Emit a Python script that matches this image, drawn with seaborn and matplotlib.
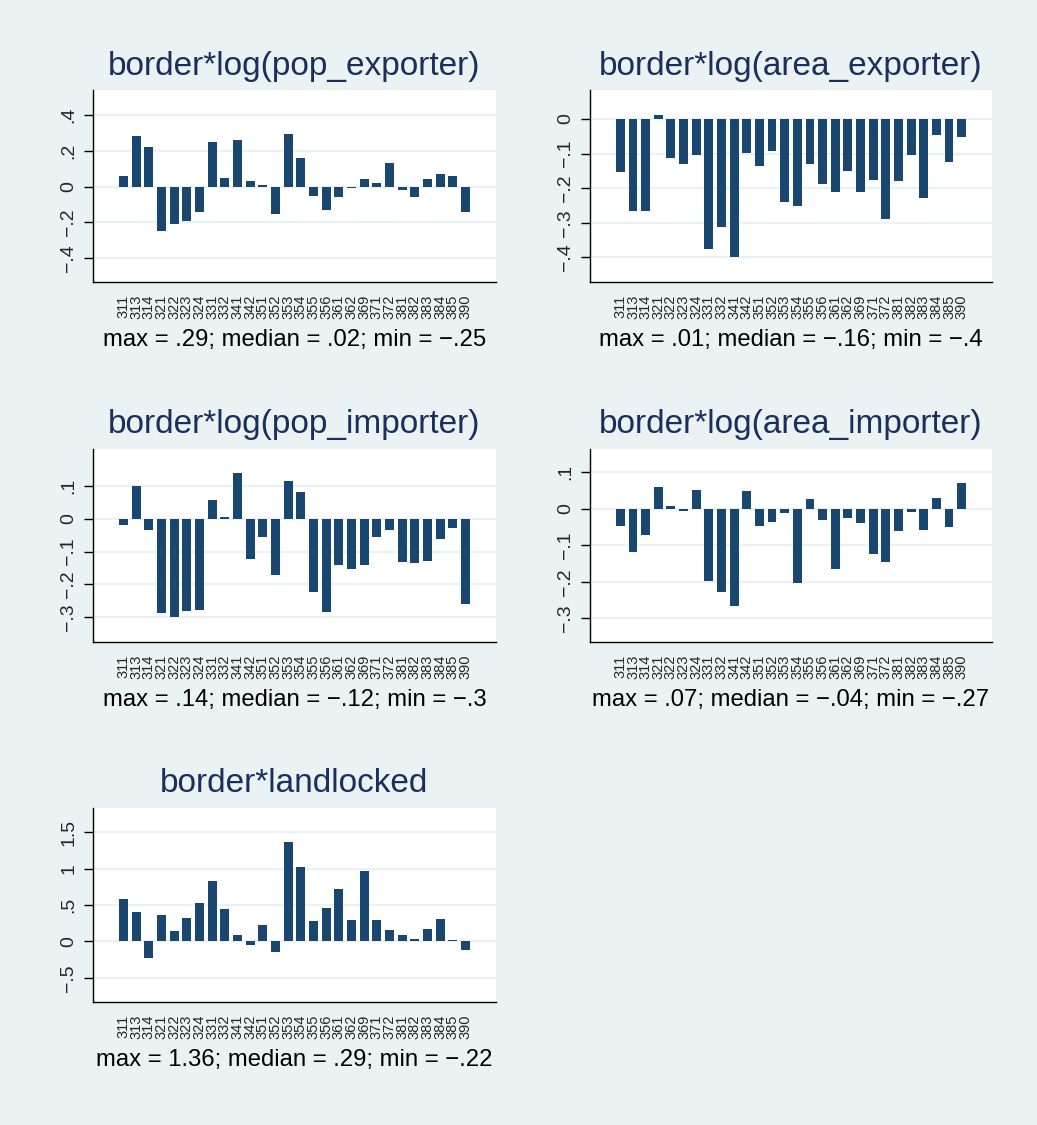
import matplotlib
matplotlib.use('Agg')
import matplotlib.pyplot as plt
import seaborn as sns
from matplotlib.ticker import FuncFormatter

industries = ['311', '313', '314', '321', '322', '323', '324', '331', '332', '341',
              '342', '351', '352', '353', '354', '355', '356', '361', '362', '369',
              '371', '372', '381', '382', '383', '384', '385', '390']

pop_exporter = [0.06, 0.28, 0.22, -0.25, -0.21, -0.19, -0.14, 0.25, 0.05, 0.26,
                0.03, 0.01, -0.15, 0.29, 0.16, -0.05, -0.13, -0.06, -0.01, 0.04,
                0.02, 0.13, -0.02, -0.06, 0.04, 0.07, 0.06, -0.14]

area_exporter = [-0.154, -0.267, -0.267, 0.013, -0.113, -0.129, -0.105, -0.376, -0.312, -0.40,
                 -0.098, -0.137, -0.092, -0.241, -0.252, -0.129, -0.187, -0.212, -0.149, -0.212,
                 -0.176, -0.289, -0.178, -0.104, -0.229, -0.046, -0.124, -0.053]

pop_importer = [-0.018, 0.099, -0.033, -0.288, -0.30, -0.282, -0.277, 0.056, 0.007, 0.14,
                -0.122, -0.056, -0.171, 0.114, 0.083, -0.223, -0.283, -0.142, -0.152, -0.141,
                -0.055, -0.033, -0.133, -0.134, -0.130, -0.062, -0.028, -0.261]

area_importer = [-0.046, -0.119, -0.072, 0.061, 0.008, -0.006, 0.051, -0.199, -0.228, -0.267,
                 0.050, -0.048, -0.036, -0.011, -0.203, 0.027, -0.031, -0.165, -0.025, -0.039,
                 -0.124, -0.146, -0.061, -0.009, -0.058, 0.031, -0.051, 0.07]

landlocked = [0.578, 0.404, -0.22, 0.362, 0.138, 0.326, 0.528, 0.835, 0.445, 0.083,
              -0.055, 0.229, -0.142, 1.36, 1.023, 0.275, 0.463, 0.716, 0.298, 0.963,
              0.298, 0.151, 0.083, 0.037, 0.170, 0.303, 0.014, -0.119]

titles = ['border*log(pop_exporter)', 'border*log(area_exporter)',
          'border*log(pop_importer)', 'border*log(area_importer)',
          'border*landlocked']
notes = ['max = .29; median = .02; min = \u2212.25',
         'max = .01; median = \u2212.16; min = \u2212.4',
         'max = .14; median = \u2212.12; min = \u2212.3',
         'max = .07; median = \u2212.04; min = \u2212.27',
         'max = 1.36; median = .29; min = \u2212.22']
series = [pop_exporter, area_exporter, pop_importer, area_importer, landlocked]
yticks = [[-0.4, -0.2, 0, 0.2, 0.4],
          [-0.4, -0.3, -0.2, -0.1, 0],
          [-0.3, -0.2, -0.1, 0, 0.1],
          [-0.3, -0.2, -0.1, 0, 0.1],
          [-0.5, 0, 0.5, 1, 1.5]]
ylims = [(-0.531, 0.537), (-0.471, 0.084), (-0.376, 0.213), (-0.365, 0.164), (-0.83, 1.83)]

# pixel boxes (left, top, right, bottom) of each plot region
boxes = [(93, 90, 496, 282), (590, 90, 992, 282),
         (93, 449, 496, 642), (590, 449, 992, 642),
         (93, 808, 496, 1002)]

W, H = 1037, 1125
bg = '#eaf2f3'
bar_color = '#1a476f'
title_color = '#1c2e5a'

sns.set_theme(style='white')
plt.rcParams['font.family'] = ['Liberation Sans', 'DejaVu Sans']
plt.rcParams['axes.unicode_minus'] = True


def stata_fmt(v, pos):
    if abs(v) < 1e-9:
        return '0'
    s = ('%g' % abs(v))
    if s.startswith('0.'):
        s = s[1:]
    return ('\u2212' if v < 0 else '') + s


fig = plt.figure(figsize=(W / 100, H / 100), dpi=100, facecolor=bg)

for i, vals in enumerate(series):
    l, t, r, b = boxes[i]
    ax = fig.add_axes([l / W, 1 - b / H, (r - l) / W, (b - t) / H])
    ax.set_facecolor('white')
    sns.barplot(x=industries, y=vals, color=bar_color, width=0.7,
                saturation=1, linewidth=0, ax=ax, zorder=3)
    ax.set_xlim(-2.4, len(industries) - 1 + 2.4)
    ax.set_ylim(*ylims[i])
    ax.set_yticks(yticks[i])
    ax.yaxis.set_major_formatter(FuncFormatter(stata_fmt))
    ax.grid(axis='y', color=bg, linewidth=1.6, zorder=0)
    ax.grid(axis='x', visible=False)
    for side in ['top', 'right']:
        ax.spines[side].set_visible(False)
    for side in ['left', 'bottom']:
        ax.spines[side].set_color('black')
        ax.spines[side].set_linewidth(1.0)
    ax.tick_params(axis='y', which='major', left=True, length=6.5, width=1,
                   color='black', labelsize=14, pad=5)
    ax.tick_params(axis='x', bottom=False, labelsize=10.5, pad=3)
    for lab in ax.get_yticklabels():
        lab.set_rotation(90)
        lab.set_va('center')
    for lab in ax.get_xticklabels():
        lab.set_rotation(90)
    ax.set_xlabel('')
    ax.set_ylabel('')
    cx = (l + r) / 2
    fig.text(cx / W, 1 - 66 / H - (t - 90) / H, titles[i], ha='center', va='center',
             fontsize=24, color=title_color)
    fig.text(cx / W, 1 - (b + 58) / H, notes[i], ha='center', va='center',
             fontsize=17.2, color='black')

fig.savefig('out.png', dpi=100, facecolor=bg)
